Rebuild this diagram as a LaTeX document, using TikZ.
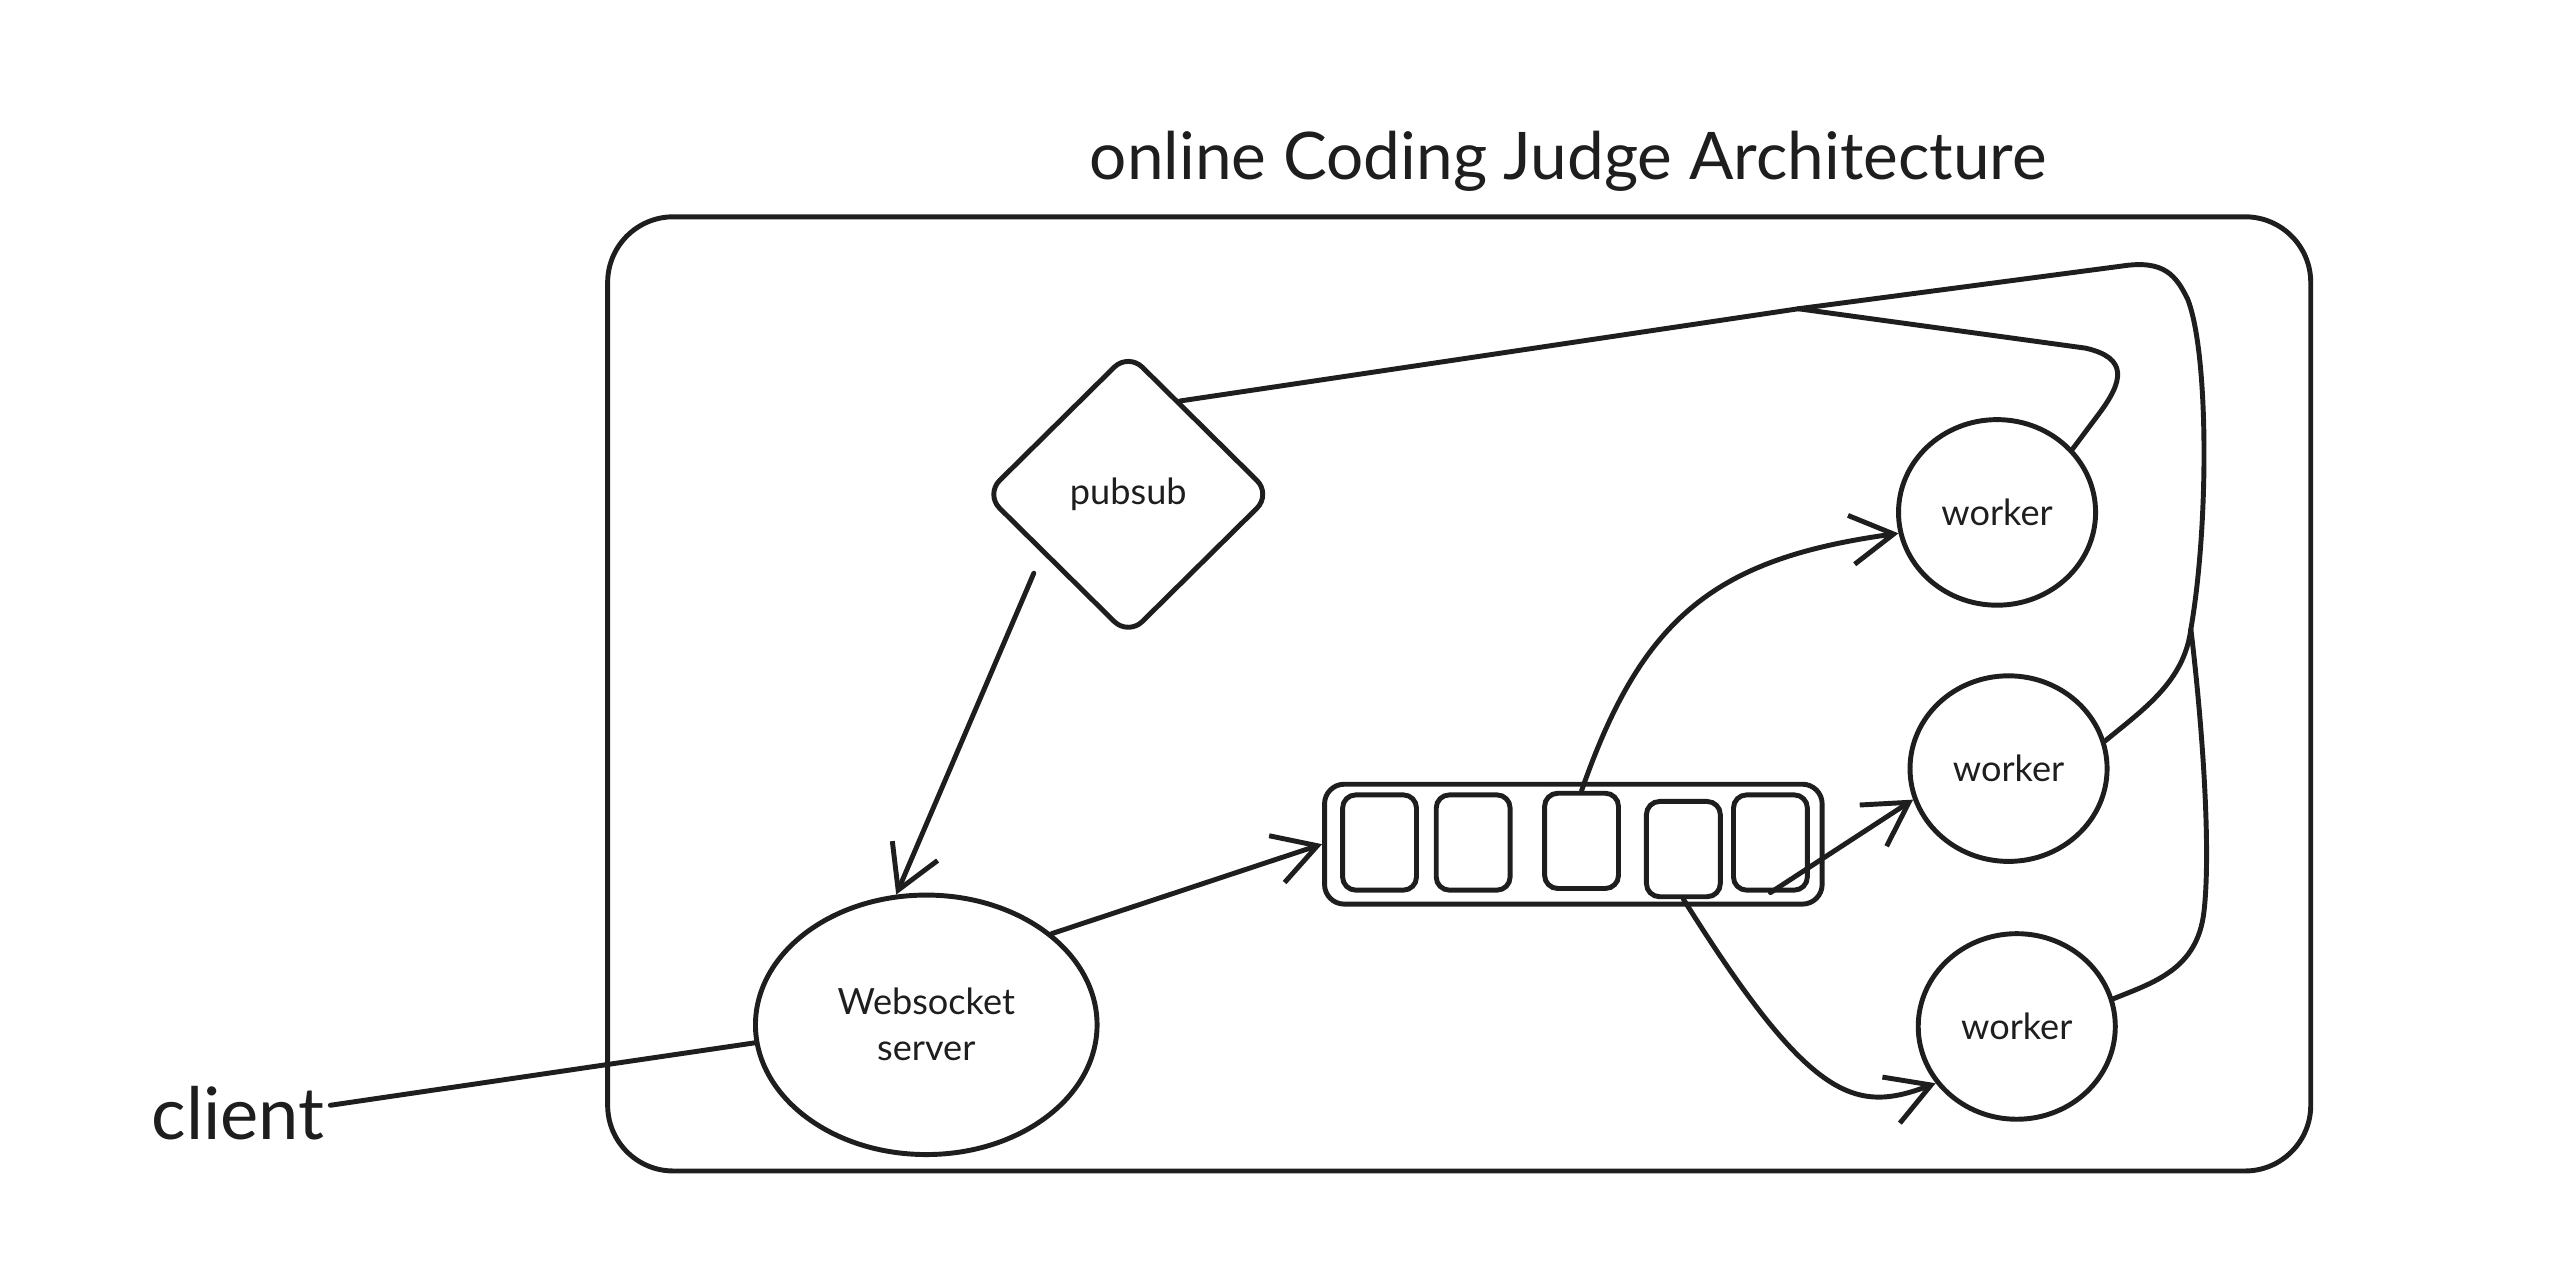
\documentclass[tikz,border=0pt]{standalone}
\usepackage{fontspec}
\setmainfont{Lato}
\usetikzlibrary{shapes.geometric,arrows.meta,positioning}
\definecolor{ink}{HTML}{1E1E1E}

\tikzset{
  sketch/.style={draw=ink, line width=3pt},
  labelfont/.style={font=\fontsize{22}{28}\selectfont},
  worker/.style={sketch, ellipse, labelfont, minimum width=120pt, minimum height=113pt},
  cell/.style={sketch, rounded corners=8pt, minimum width=45pt, minimum height=58pt},
  link/.style={draw=ink, line width=3pt, line cap=round},
  flow/.style={link, -{Straight Barb[length=26pt,width=30pt]}},
}

\begin{document}
\begin{tikzpicture}[x=1pt, y=-1pt, text=ink]
\useasboundingbox (0,0) rectangle (1560,777);

% title and frame
\node[font=\fontsize{40}{44}\selectfont] (title) at (955,98) {online Coding Judge Architecture};
\node[sketch, rounded corners=40pt, minimum width=1037pt, minimum height=581pt] (system) at (888.5,422.5) {};

% nodes
\node[sketch, diamond, rounded corners=12pt, inner sep=0pt, minimum width=175pt, minimum height=173pt, labelfont] (pubsub) at (687,301) {pubsub};
\node[sketch, ellipse, align=center, minimum width=208pt, minimum height=158pt, labelfont] (server) at (564,624) {Websocket\\server};
\node[font=\fontsize{44}{48}\selectfont] (client) at (145,678) {client};

% queue
\node[sketch, rounded corners=12pt, minimum width=303pt, minimum height=73pt] (queue) at (958,514) {};
\foreach \n/\x/\y in {1/840/513, 2/897/513, 3/963/512, 4/1025/517, 5/1078/513}
  \node[cell] (cell\n) at (\x,\y) {};

% workers
\node[worker] (worker1) at (1216,312) {worker};
\node[worker] (worker2) at (1223,468) {worker};
\node[worker] (worker3) at (1228,625) {worker};

% connectors
\draw[link] ([yshift=5pt]client.east) -- (server.186);
\draw[flow] ([xshift=-13pt,yshift=-4pt]pubsub.south west) -- (server.103);
\draw[flow] (server.36) -- (queue.west);
\draw[flow] (cell3.north) .. controls (1000,375) and (1045,340) .. (worker1.192);
\draw[flow] (cell5.south) -- (worker2.198);
\draw[flow] (cell4.south) .. controls (1103,672) and (1130,678) .. (worker3.215);

% results back to pubsub
\coordinate (hub) at (1095,188);
\coordinate (merge) at (1334,383);
\draw[link] (pubsub.61) -- (hub);
\draw[link] (worker1.40) -- (1278,252) .. controls (1293,232) and (1296,218) .. (1270,212) -- (hub);
\draw[link] (hub) -- (1292,162) .. controls (1318,158) and (1325,168) .. (1332,182)
  .. controls (1345,215) and (1345,320) .. (merge)
  .. controls (1330,415) and (1305,432) .. (worker2.16);
\draw[link] (merge) .. controls (1342,450) and (1346,520) .. (1342,555)
  .. controls (1338,590) and (1312,598) .. (worker3.16);
\end{tikzpicture}
\end{document}
